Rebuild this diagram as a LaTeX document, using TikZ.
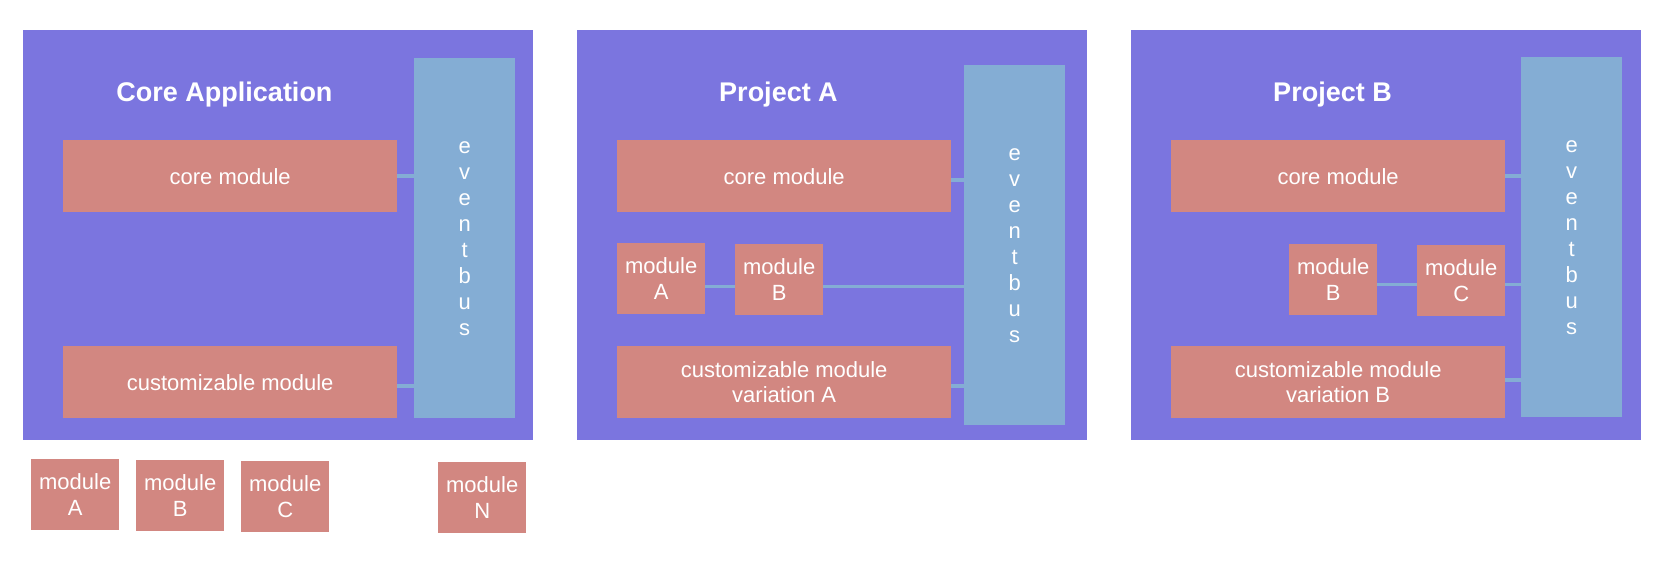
\documentclass[tikz,border=0pt]{standalone}
\usepackage{fontspec}
\setmainfont{Liberation Sans}
\usepackage{tikz}
\usepackage{xcolor}
\definecolor{panelbg}{RGB}{123,117,223}
\definecolor{modfill}{RGB}{210,135,129}
\definecolor{busfill}{RGB}{132,173,212}

\begin{document}
\begin{tikzpicture}[x=1pt, y=-1pt,
  panel/.style={fill=panelbg, inner sep=0pt, minimum width=510pt, minimum height=410pt, anchor=north west},
  module/.style={fill=modfill, text=white, inner sep=0pt, anchor=north west, align=center,
    font=\fontsize{22}{25.7}\selectfont},
  wide/.style={module, minimum width=334pt, minimum height=72pt},
  small/.style={module, minimum width=88pt, minimum height=71pt},
  bus/.style={fill=busfill, text=white, inner sep=0pt, minimum width=101pt, minimum height=360pt,
    anchor=north west, align=center, font=\fontsize{22}{26}\selectfont},
  header/.style={text=white, anchor=base, font=\bfseries\fontsize{27}{32}\selectfont},
  link/.style={draw=busfill, line width=3.5pt}]
  \useasboundingbox (0,0) rectangle (1658,560);
  \pgfmathsetmacro{\tx}{201.5} % title centre
  \pgfmathsetmacro{\ty}{71.7}  % title baseline

  % core application
  \begin{scope}[shift={(23,30)}]
    \node[panel] (app) at (0,0) {};
    \node[header] (appT) at (\tx,\ty) {Core Application};
    \node[bus] (bus1) at (391,28) {e\\v\\e\\n\\t\\b\\u\\s};
    \node[wide] (core1) at (40,110) {core module};
    \node[wide] (cust1) at (40,316) {customizable module};
  \end{scope}
  \draw[link] (core1.east) -- (core1.east -| bus1.west);
  \draw[link] ([yshift=-4pt]cust1.east) -- ([yshift=-4pt]cust1.east -| bus1.west);

  % available modules
  \node[small] (libA) at (31,459) {module\\A};
  \node[small] (libB) at (136,460) {module\\B};
  \node[small] (libC) at (241,461) {module\\C};
  \node[small] (libN) at (438,462) {module\\N};

  % project A
  \begin{scope}[shift={(577,30)}]
    \node[panel] (prjA) at (0,0) {};
    \node[header] (prjAT) at (\tx,\ty) {Project A};
    \node[bus] (bus2) at (387,35) {e\\v\\e\\n\\t\\b\\u\\s};
    \node[wide] (core2) at (40,110) {core module};
    \node[small] (modA2) at (40,213) {module\\A};
    \node[small] (modB2) at (158,214) {module\\B};
    \node[wide] (cust2) at (40,316) {customizable module\\variation A};
  \end{scope}
  \draw[link] ([yshift=-4pt]core2.east) -- ([yshift=-4pt]core2.east -| bus2.west);
  \draw[link] ([yshift=-8pt]modA2.east) -- ([yshift=-8pt]modA2.east -| modB2.west);
  \draw[link] ([yshift=-7pt]modB2.east) -- ([yshift=-7pt]modB2.east -| bus2.west);
  \draw[link] ([yshift=-4pt]cust2.east) -- ([yshift=-4pt]cust2.east -| bus2.west);

  % project B
  \begin{scope}[shift={(1131,30)}]
    \node[panel] (prjB) at (0,0) {};
    \node[header] (prjBT) at (\tx,\ty) {Project B};
    \node[bus] (bus3) at (390,27) {e\\v\\e\\n\\t\\b\\u\\s};
    \node[wide] (core3) at (40,110) {core module};
    \node[small] (modB3) at (158,214) {module\\B};
    \node[small] (modC3) at (286,215) {module\\C};
    \node[wide] (cust3) at (40,316) {customizable module\\variation B};
  \end{scope}
  \draw[link] (core3.east) -- (core3.east -| bus3.west);
  \draw[link] ([yshift=-5pt]modB3.east) -- ([yshift=-5pt]modB3.east -| modC3.west);
  \draw[link] ([yshift=-4pt]modC3.east) -- ([yshift=-4pt]modC3.east -| bus3.west);
  \draw[link] ([yshift=2pt]cust3.east) -- ([yshift=2pt]cust3.east -| bus3.west);

\end{tikzpicture}
\end{document}
